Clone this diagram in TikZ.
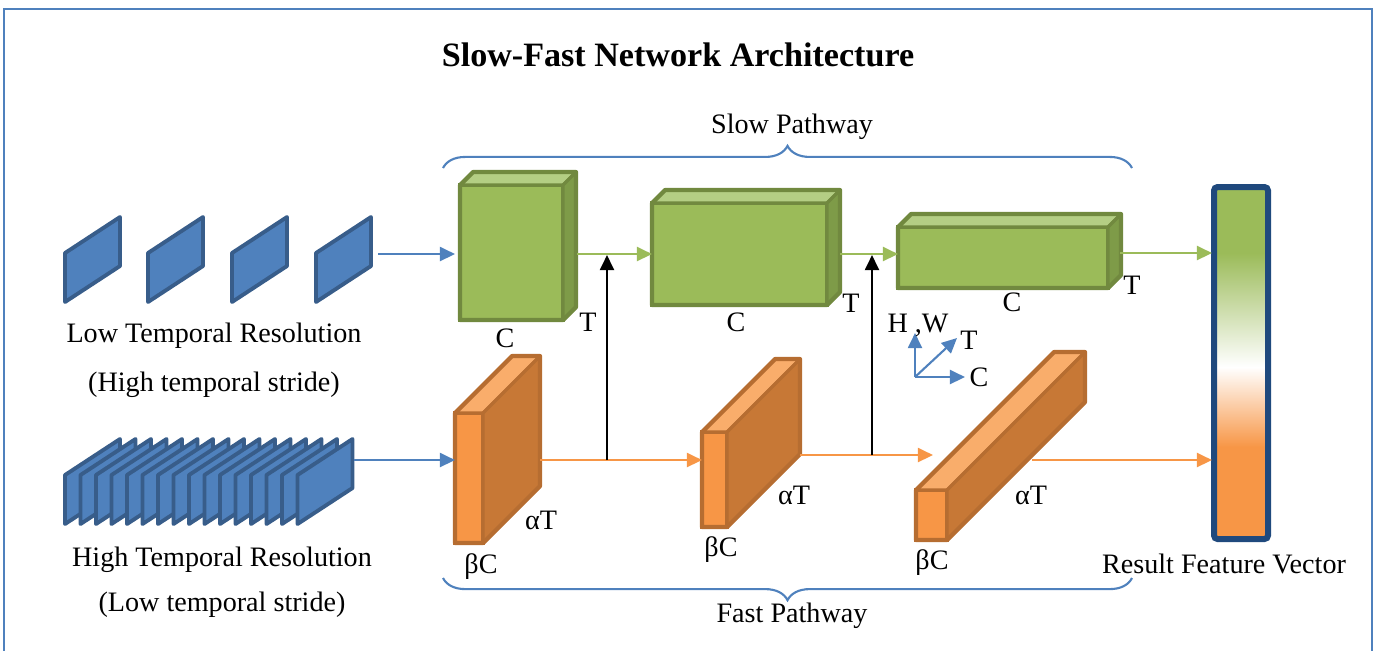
\documentclass[tikz,border=0pt]{standalone}
\usepackage{fontspec}
\setmainfont{Liberation Serif}
\usetikzlibrary{arrows.meta,decorations.pathreplacing}

\definecolor{frameblue}{HTML}{4F81BD}
\definecolor{slideedge}{HTML}{385D8A}
\definecolor{greenfront}{HTML}{9BBB59}
\definecolor{greentop}{HTML}{B4CE84}
\definecolor{greenside}{HTML}{7E9B48}
\definecolor{greenedge}{HTML}{71893F}
\definecolor{orangefront}{HTML}{F79646}
\definecolor{orangetop}{HTML}{F9AD6B}
\definecolor{orangeside}{HTML}{C77836}
\definecolor{orangeedge}{HTML}{B66D31}
\definecolor{vecedge}{HTML}{1F497D}

% feature block: x y (top-left of front face), width, height, depth, colour
\newcommand{\featbox}[6]{%
  \filldraw[fill=#6front,draw=#6edge,line width=0.9pt] (#1,#2) rectangle ({#1+#3},{#2+#4});
  \filldraw[fill=#6top,draw=#6edge,line width=0.9pt,line join=round] (#1,#2) -- ({#1+#5},{#2-#5}) -- ({#1+#3+#5},{#2-#5}) -- ({#1+#3},#2) -- cycle;
  \filldraw[fill=#6side,draw=#6edge,line width=0.9pt,line join=round] ({#1+#3},#2) -- ({#1+#3+#5},{#2-#5}) -- ({#1+#3+#5},{#2+#4-#5}) -- ({#1+#3},{#2+#4}) -- cycle;
  \draw[#6edge,line width=1.2pt,line join=round] (#1,{#2+#4}) -- (#1,#2) -- ({#1+#5},{#2-#5}) -- ({#1+#3+#5},{#2-#5}) -- ({#1+#3+#5},{#2+#4-#5}) -- ({#1+#3},{#2+#4}) -- cycle;
}
% one video frame, x y = bottom-left corner
\newcommand{\frameslide}[2]{%
  \filldraw[frameslide] (#1,#2) -- (#1,{#2-49}) -- ({#1+55},{#2-85}) -- ({#1+55},{#2-36}) -- cycle;
}

\begin{document}
\begin{tikzpicture}[x=0.01cm,y=-0.01cm,
  >={Triangle[length=4.3pt,width=4pt]},
  every node/.style={font=\fontsize{8}{10}\selectfont,inner sep=0pt,text height=5.3pt,text depth=0pt},
  frameslide/.style={fill=frameblue,draw=slideedge,line width=1.1pt,line join=round},
  blueflow/.style={->,frameblue,line width=0.6pt},
  greenflow/.style={->,greenfront,line width=0.6pt},
  orangeflow/.style={->,orangefront,line width=0.6pt},
  lateral/.style={->,black,line width=0.6pt},
  pathbrace/.style={frameblue,line width=0.6pt,decorate,decoration={brace,amplitude=6.3pt}}]
\useasboundingbox (0,0) rectangle (1376,650);
\draw[frameblue,line width=0.6pt] (4,660) -- (4,9) -- (1372,9) -- (1372,660);

\node[font=\fontsize{9.7}{11}\selectfont\bfseries,text height=6.4pt] (title) at (678,55) {Slow-Fast Network Architecture};

% input frames
\foreach \x in {65,148,232,316} {\frameslide{\x}{302}}
\foreach \i in {0,...,15} {\frameslide{65+15.5*\i}{524}}
\node (lowres) at (214,333) {Low Temporal Resolution};
\node (lowstride) at (214,382) {(High temporal stride)};
\node (highres) at (222,557) {High Temporal Resolution};
\node (highstride) at (222,602) {(Low temporal stride)};

% slow pathway
\featbox{460}{185}{103}{135}{13}{green}
\featbox{652}{203}{175}{102}{13}{green}
\featbox{898}{227}{210}{61}{13}{green}
\node (c1) at (505,338) {C};
\node (t1) at (588,322) {T};
\node (c2) at (736,322) {C};
\node (t2) at (851,303) {T};
\node (c3) at (1012,302) {C};
\node (t3) at (1132,285) {T};

% fast pathway
\featbox{455}{413}{28}{130}{57}{orange}
\featbox{702}{432}{25}{95}{73}{orange}
\featbox{916}{490}{31}{50}{138}{orange}
\node (b1) at (481,564) {βC};
\node (a1) at (541,520) {αT};
\node (b2) at (721,547) {βC};
\node (a2) at (794,495) {αT};
\node (b3) at (932,560) {βC};
\node (a3) at (1031,495) {αT};

% result vector
\fill[greenfront] (1214,187) rectangle (1268,253);
\shade[top color=greenfront,bottom color=white] (1214,253) rectangle (1268,367);
\shade[top color=white,bottom color=orangefront] (1214,367) rectangle (1268,447);
\fill[orangefront] (1214,447) rectangle (1268,539);
\draw[vecedge,line width=1.7pt,rounded corners=1pt] (1214,187) rectangle (1268,539);
\node (result) at (1224,564) {Result Feature Vector};

% connectors
\coordinate (lowout) at (378,254);
\coordinate (highout) at (354,460);
\coordinate (s1in) at (455,254);
\coordinate (f1in) at (455,460);
\coordinate (s1out) at (577,254);
\coordinate (s2in) at (652,254);
\coordinate (s2out) at (840,254);
\coordinate (s3in) at (898,254);
\coordinate (s3out) at (1120,253);
\coordinate (vslow) at (1212,253);
\coordinate (f1out) at (540,460);
\coordinate (f2in) at (702,460);
\coordinate (f2out) at (800,455);
\coordinate (f3in) at (933,455);
\coordinate (f3out) at (1032,460);
\coordinate (vfast) at (1212,460);
\coordinate (lat1) at (607,460);
\coordinate (lat1top) at (607,255);
\coordinate (lat2) at (872,455);
\coordinate (lat2top) at (872,255);
\draw[blueflow] (lowout) -- (s1in);
\draw[blueflow] (highout) -- (f1in);
\draw[greenflow] (s1out) -- (s2in);
\draw[greenflow] (s2out) -- (s3in);
\draw[greenflow] (s3out) -- (vslow);
\draw[orangeflow] (f1out) -- (f2in);
\draw[orangeflow] (f2out) -- (f3in);
\draw[orangeflow] (f3out) -- (vfast);
\draw[lateral] (lat1) -- (lat1top);
\draw[lateral] (lat2) -- (lat2top);

% axes
\coordinate (origin) at (915,377);
\coordinate (hw) at (915,333);
\coordinate (tdir) at (957,338);
\coordinate (cdir) at (965,377);
\draw[blueflow] (origin) -- (hw);
\draw[blueflow] (origin) -- (tdir);
\draw[blueflow] (origin) -- (cdir);
\node (hwlbl) at (918,323) {H ,W};
\node (tlbl) at (969,340) {T};
\node (clbl) at (979,377) {C};

% pathway braces
\draw[pathbrace] (443,168) -- (1132,168);
\draw[pathbrace] (1132,578) -- (443,578);
\node (slow) at (792,124) {Slow Pathway};
\node (fast) at (792,613) {Fast Pathway};
\end{tikzpicture}
\end{document}
